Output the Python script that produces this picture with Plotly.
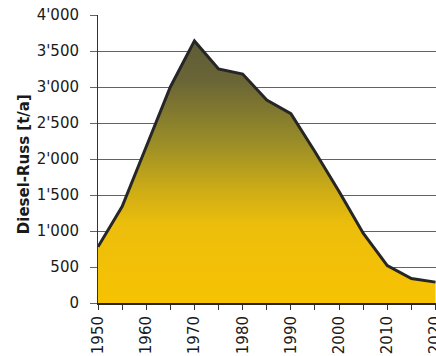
import plotly.graph_objects as go

# Diesel soot emissions per year (t/a)
years = [1950, 1955, 1960, 1965, 1970, 1975, 1980, 1985, 1990, 1995, 2000, 2005, 2010, 2015, 2020]
soot = [780, 1340, 2170, 3000, 3640, 3250, 3180, 2820, 2630, 2100, 1550, 970, 520, 340, 290]

y_ticks = [0, 500, 1000, 1500, 2000, 2500, 3000, 3500, 4000]
y_labels = ["0", "500", "1'000", "1'500", "2'000", "2'500", "3'000", "3'500", "4'000"]
x_ticks = [1950, 1960, 1970, 1980, 1990, 2000, 2010, 2020]

grid_col = "#6b5f5f"
font_main = "DejaVu Sans, Verdana, sans-serif"

fig = go.Figure()
fig.add_trace(go.Scatter(
    x=years, y=soot,
    mode="lines",
    line=dict(color="#262626", width=3),
    fill="tozeroy",
    fillgradient=dict(
        type="vertical",
        start=0, stop=max(soot),
        colorscale=[
            [0.0, "rgb(247,194,2)"],
            [0.30, "rgb(236,190,12)"],
            [0.43, "rgb(205,172,22)"],
            [0.62, "rgb(152,140,40)"],
            [0.85, "rgb(106,101,54)"],
            [1.0, "rgb(94,92,56)"],
        ],
    ),
    hoverinfo="skip",
    showlegend=False,
))

fig.update_layout(
    width=436, height=356,
    margin=dict(l=98, r=0, t=15, b=53),
    paper_bgcolor="white",
    plot_bgcolor="white",
    font=dict(family=font_main, size=15, color="#1a1a1a"),
    annotations=[dict(
        text="<b>Diesel-Russ [t/a]</b>",
        textangle=-90,
        xref="paper", yref="paper",
        x=-0.218, y=0.483,
        xanchor="center", yanchor="middle",
        showarrow=False,
        font=dict(family=font_main, size=15, color="#1a1a1a"),
    )],
)

fig.update_xaxes(
    range=[1950, 2020.1],
    tickvals=x_ticks,
    tickangle=-90,
    ticks="outside", ticklen=5, tickcolor="#333", tickwidth=1,
    minor=dict(dtick=5, tick0=1950, ticks="outside", ticklen=5, tickcolor="#333", showgrid=False),
    ticklabeloverflow="allow",
    automargin=False,
    showgrid=False,
    showline=True, linecolor="#262626", linewidth=2,
    zeroline=False,
    tickfont=dict(size=15),
)

fig.update_yaxes(
    range=[0, 4000],
    tickvals=y_ticks,
    ticktext=y_labels,
    ticks="outside", ticklen=7, tickcolor=grid_col, tickwidth=1,
    ticklabelstandoff=8,
    automargin=False,
    showgrid=True, gridcolor=grid_col, gridwidth=1,
    showline=True, linecolor="#3a3030", linewidth=1,
    zeroline=False,
    tickfont=dict(size=15),
)

fig.write_html("out.html")
